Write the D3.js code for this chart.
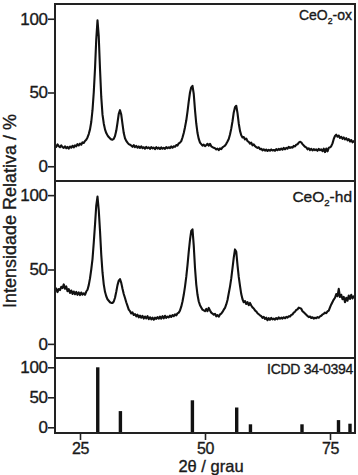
<!DOCTYPE html>
<html>
<head>
<meta charset="utf-8">
<script src="https://cdn.jsdelivr.net/npm/d3@7"></script>
<style>
  body { margin: 0; background: #fff; }
  svg { display: block; font-family: "Liberation Sans", Arial, sans-serif; }
  svg text { fill: #1a1a1a; stroke: #1a1a1a; stroke-width: 0.35px; }
  .tick line { stroke: #222; stroke-width: 1.6; }
</style>
</head>
<body>
<svg class="js-xrd" width="358" height="475"></svg>
<script>
// 2theta grid of the scans: 20..80 deg, 0.25 deg step
var START = 20, STEP = 0.25;

// CeO2-ox, one row per degree
var ceo2Ox = [
  14.5, 13.2, 14.8, 13.6,  // 20
  12.9, 14.1, 13.0, 12.4,
  13.5, 12.2, 13.1, 12.0,
  13.4, 12.6, 13.9, 12.8,
  14.2, 13.5, 15.0, 14.1,
  15.4, 14.6, 16.2, 15.8,  // 25
  17.1, 17.9, 19.5, 21.8,
  25.0, 30.0, 38.0, 50.0,
  66.0, 86.0, 99.0, 88.0,
  66.0, 47.0, 35.0, 29.0,
  25.0, 22.5, 21.0, 19.8,  // 30
  18.9, 18.2, 18.0, 18.6,
  20.5, 24.0, 29.5, 35.5,
  38.0, 35.0, 28.5, 22.5,
  19.0, 17.2, 16.0, 15.0,
  14.6, 14.0, 13.2, 14.3,  // 35
  13.0, 13.8, 12.6, 13.4,
  12.4, 13.5, 12.3, 12.9,
  11.9, 13.1, 12.2, 12.8,
  11.8, 13.0, 12.1, 12.7,
  11.6, 12.9, 12.0, 12.6,  // 40
  11.7, 12.8, 11.9, 12.5,
  11.8, 13.0, 12.2, 12.9,
  12.3, 13.4, 12.6, 13.5,
  13.2, 14.4, 14.0, 15.5,
  16.0, 17.0, 19.5, 22.5,  // 45
  26.5, 31.0, 37.0, 44.0,
  50.0, 53.5, 54.5, 49.0,
  38.0, 29.0, 22.5, 18.5,
  16.0, 15.0, 14.0, 14.6,
  13.6, 14.3, 15.2, 14.0,  // 50
  15.2, 13.5, 13.0, 12.5,
  12.2, 11.4, 12.0, 10.9,
  12.1, 11.6, 12.8, 13.4,
  14.0, 15.2, 16.8, 18.5,
  21.5, 25.5, 30.5, 36.5,  // 55
  40.0, 41.0, 36.0, 29.0,
  24.0, 21.0, 19.5, 19.8,
  18.2, 18.8, 17.0, 16.5,
  15.3, 16.0, 14.2, 14.8,
  13.6, 13.0, 12.4, 12.9,  // 60
  11.6, 11.9, 10.8, 11.5,
  10.6, 11.3, 10.4, 11.2,
  10.5, 11.4, 10.7, 11.0,
  10.5, 11.6, 10.9, 11.8,
  11.1, 12.0, 11.2, 12.4,  // 65
  11.5, 12.5, 11.9, 13.2,
  12.4, 13.0, 12.6, 13.8,
  13.4, 14.6, 14.9, 16.0,
  16.6, 16.2, 15.0, 14.1,
  13.2, 12.8, 11.5, 12.2,  // 70
  11.0, 11.8, 10.7, 11.6,
  10.9, 11.4, 10.5, 11.8,
  10.9, 11.5, 10.2, 11.9,
  9.6, 12.0, 10.1, 12.5,
  12.8, 13.6, 15.5, 18.5,  // 75
  20.5, 21.4, 20.0, 20.8,
  19.2, 20.0, 18.6, 19.5,
  18.2, 19.0, 17.6, 18.4,
  16.8, 17.8, 16.2, 17.0,
  16.4                     // 80
];

// CeO2-hd
var ceo2Hd = [
  35.5, 37.2, 34.8, 36.9,  // 20
  36.2, 38.4, 37.5, 40.0,
  37.0, 38.6, 35.4, 36.8,
  34.2, 35.9, 33.6, 35.2,
  33.4, 34.9, 33.0, 34.6,
  32.8, 34.5, 33.1, 34.0,  // 25
  33.0, 35.2, 36.4, 39.5,
  44.0, 50.0, 57.0, 68.0,
  80.0, 93.0, 99.0, 90.0,
  76.0, 60.0, 48.0, 40.0,
  35.0, 32.0, 30.0, 29.0,  // 30
  28.0, 27.5, 27.5, 28.5,
  31.0, 35.0, 39.5, 42.5,
  43.5, 41.0, 37.0, 33.5,
  30.8, 28.0, 25.5, 23.0,
  22.0, 20.5, 21.2, 19.4,  // 35
  20.0, 18.5, 19.6, 17.8,
  19.0, 17.6, 18.8, 17.0,
  18.4, 17.2, 18.6, 16.6,
  17.9, 16.5, 17.7, 16.2,
  17.6, 16.8, 18.0, 16.9,  // 40
  18.3, 17.0, 18.6, 17.2,
  18.9, 17.5, 18.4, 17.8,
  19.0, 18.1, 19.4, 18.6,
  19.8, 19.2, 20.5, 21.0,
  22.5, 25.0, 28.5, 33.0,  // 45
  38.5, 45.0, 53.0, 62.0,
  70.0, 76.0, 77.0, 66.0,
  51.0, 40.0, 33.0, 28.5,
  26.0, 24.5, 23.0, 22.5,
  22.0, 23.5, 22.0, 24.2,  // 50
  22.5, 21.0, 20.4, 19.6,
  20.2, 18.5, 19.4, 18.3,
  19.8, 20.4, 21.5, 23.0,
  24.2, 26.5, 29.5, 34.0,
  38.5, 44.0, 51.0, 58.0,  // 55
  63.5, 62.0, 53.0, 45.0,
  39.0, 33.5, 30.0, 28.0,
  28.8, 26.8, 28.0, 26.0,
  27.5, 25.8, 24.5, 23.8,
  22.5, 21.8, 20.6, 19.9,  // 60
  19.2, 18.6, 17.5, 18.2,
  16.8, 17.6, 15.9, 17.3,
  16.2, 17.5, 16.4, 17.0,
  16.3, 17.4, 16.6, 17.8,
  16.9, 17.6, 17.0, 17.9,  // 65
  17.2, 18.1, 17.6, 18.6,
  18.4, 19.5, 19.8, 21.0,
  21.6, 22.8, 23.2, 24.4,
  24.0, 23.6, 22.0, 21.2,
  20.4, 19.6, 18.8, 18.0,  // 70
  18.4, 17.4, 17.9, 17.0,
  17.6, 17.2, 18.0, 17.6,
  18.5, 18.9, 19.8, 20.2,
  21.0, 20.6, 21.8, 22.4,
  24.5, 26.5, 28.2, 29.8,  // 75
  31.0, 33.5, 32.0, 37.0,
  31.5, 33.0, 30.0, 31.6,
  28.0, 31.0, 29.0, 32.5,
  30.2, 33.0, 30.5, 32.0,
  31.5                     // 80
];

// ICDD 34-0394 reference lines
var icddAngle = [28.55, 33.08, 47.48, 56.34, 59.09, 69.40, 76.70, 79.00];
var icddIntensity = [100, 27, 45, 33, 5, 5, 12, 6];

var yTicks = [0, 50, 100];
var xTicks = [25, 50, 75];

var svg = d3.select('.js-xrd'),
    left = 55, right = 355;

var x = d3.scaleLinear().domain([20, 80]).range([left, right]);

var panels = [
  { top: 4,   bottom: 181, domain: [-10, 110],    data: ceo2Ox, label: '-ox', size: 14, ly: 20 },
  { top: 181, bottom: 358, domain: [-9.5, 109.5], data: ceo2Hd, label: '-hd', size: 15.5, ly: 202 },
  { top: 358, bottom: 433, domain: [-9.5, 115.5] }
];
panels.forEach(function(p) {
  p.y = d3.scaleLinear().domain(p.domain).range([p.bottom, p.top]);
});

// y axes
panels.forEach(function(p) {
  var g = svg.append('g')
      .attr('transform', 'translate(' + left + ',0)')
      .call(d3.axisLeft(p.y).tickValues(yTicks).tickSize(7).tickPadding(0.5));
  g.select('.domain').remove();
  g.selectAll('text').style('font-size', '17px').attr('letter-spacing', '-0.4');
});

// x axis
var gx = svg.append('g')
    .attr('transform', 'translate(0,433)')
    .call(d3.axisBottom(x).tickValues(xTicks).tickSize(7).tickPadding(2.5));
gx.select('.domain').remove();
gx.selectAll('text').style('font-size', '16px').attr('letter-spacing', '-0.4');

// scans
var line = d3.line()
    .x(function(d, i) { return x(START + i * STEP); });
panels.slice(0, 2).forEach(function(p) {
  svg.append('path')
      .datum(p.data)
      .attr('d', line.y(function(d) { return p.y(d); }))
      .attr('fill', 'none')
      .attr('stroke', '#111')
      .attr('stroke-width', 2.1)
      .attr('stroke-linejoin', 'round');

  var t = svg.append('text')
      .attr('x', right - 3)
      .attr('y', p.ly)
      .attr('text-anchor', 'end')
      .style('font-size', p.size + 'px');
  t.append('tspan').text('CeO');
  t.append('tspan').attr('dy', 4).style('font-size', (p.size * 0.62) + 'px').text('2');
  t.append('tspan').attr('dy', -4).text(p.label);
});

// reference bars
var p3 = panels[2];
svg.selectAll('.bar')
    .data(icddAngle)
    .enter()
    .append('rect')
    .attr('class', 'bar')
    .attr('x', function(d) { return x(d) - 1.7; })
    .attr('width', 3.4)
    .attr('y', function(d, i) { return p3.y(icddIntensity[i]); })
    .attr('height', function(d, i) { return p3.y(0) - p3.y(icddIntensity[i]) + 5.5; })
    .attr('fill', '#111');

svg.append('text')
    .attr('x', right - 2)
    .attr('y', 374)
    .attr('text-anchor', 'end')
    .attr('letter-spacing', '-0.3')
    .style('font-size', '14px')
    .text('ICDD 34-0394');

// frame and panel separators
svg.append('rect')
    .attr('x', left).attr('y', 4)
    .attr('width', right - left).attr('height', 433 - 4)
    .attr('fill', 'none')
    .attr('stroke', '#222')
    .attr('stroke-width', 2);
[181, 358].forEach(function(yy) {
  svg.append('line')
      .attr('x1', left).attr('x2', right)
      .attr('y1', yy).attr('y2', yy)
      .attr('stroke', '#222')
      .attr('stroke-width', 2);
});

// axis titles
svg.append('text')
    .attr('transform', 'translate(16,211) rotate(-90)')
    .attr('text-anchor', 'middle')
    .style('font-size', '18px')
    .text('Intensidade Relativa / %');

svg.append('text')
    .attr('x', 211)
    .attr('y', 471.5)
    .attr('text-anchor', 'middle')
    .style('font-size', '16.5px')
    .text('2θ / grau');
</script>
</body>
</html>
